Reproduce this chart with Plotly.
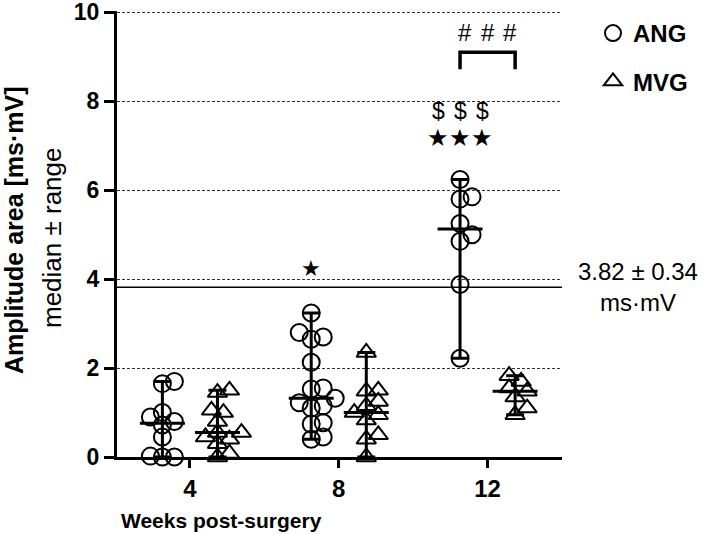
import numpy as np
import plotly.graph_objects as go

# ---------------- data ----------------
weeks = ["4", "8", "12"]
groups = ["ANG", "MVG"]

ang_w4 = [0.0, 0.0, 0.02, 0.45, 0.72, 0.8, 0.9, 1.0, 1.65, 1.7]
ang_w8 = [0.4, 0.45, 0.74, 0.77, 1.1, 1.15, 1.22, 1.32, 1.55, 1.53, 2.13, 2.65, 2.7, 2.8, 3.24]
ang_w12 = [2.22, 3.88, 4.85, 5.0, 5.25, 5.8, 5.85, 6.24]

mvg_w4 = [0.0, 0.08, 0.3, 0.4, 0.45, 0.55, 0.55, 0.8, 1.0, 1.05, 1.45, 1.5]
mvg_w8 = [0.0, 0.4, 0.5, 0.83, 0.95, 1.0, 1.15, 1.25, 1.48, 1.5, 2.35]
mvg_w12 = [0.95, 1.1, 1.35, 1.48, 1.55, 1.7, 1.83]

ang_values = [ang_w4, ang_w8, ang_w12]
mvg_values = [mvg_w4, mvg_w8, mvg_w12]

reference_mean = 3.82
reference_sd = 0.34

y_ticks = [0, 2, 4, 6, 8, 10]

# significance marks (y levels in data units)
single_star_level = 4.23
triple_star_level = 7.18
dollar_level = 7.77
hash_level = 9.55
bracket_top = 9.1
bracket_bottom = 8.72

# ---------------- geometry ----------------
W, H = 709, 534
ML, MR, MT, MB = 117, 147, 11, 77
XR = [-0.49, 2.5]
YR = [0, 10.03]
px_x = (W - ML - MR) / (XR[1] - XR[0])
px_y = (H - MT - MB) / (YR[1] - YR[0])
OFF = 0.185
FONT = "Liberation Sans, Arial, sans-serif"


def swarm(values, diam=17.0, step=6.0, overlap=0.6):
    placed = []
    order = sorted(range(len(values)), key=lambda i: values[i])
    res = [0.0] * len(values)
    for i in order:
        y = values[i] * px_y
        k = 0
        while True:
            n = (k + 1) // 2
            c = n * step * (1 if k % 2 == 1 else -1) if k > 0 else 0.0
            ok = all((c - px) ** 2 + (y - py) ** 2 >= (overlap * diam) ** 2 for px, py in placed)
            if ok or k > 6:
                break
            k += 1
        placed.append((c, y))
        res[i] = c
    return res


fig = go.Figure()

for name, vals, sym, side in [("ANG", ang_values, "circle-open", -1), ("MVG", mvg_values, "triangle-up-open", 1)]:
    xs, ys = [], []
    for gi, v in enumerate(vals):
        offs = swarm(v)
        for val, o in zip(v, offs):
            xs.append(gi + side * OFF + o / px_x)
            ys.append(val)
    fig.add_trace(go.Scatter(
        x=xs, y=ys, mode="markers", name=name, legendgroup=name,
        marker=dict(symbol=sym, size=17, color="black", line=dict(width=2, color="black")),
        cliponaxis=False, showlegend=True,
    ))
    med = [float(np.median(v)) for v in vals]
    mx = [float(np.max(v)) for v in vals]
    mn = [float(np.min(v)) for v in vals]
    fig.add_trace(go.Scatter(
        x=[gi + side * OFF for gi in range(len(vals))], y=med, mode="markers",
        marker=dict(size=1, color="rgba(0,0,0,0)"),
        error_y=dict(type="data", symmetric=False,
                     array=[a - m for a, m in zip(mx, med)],
                     arrayminus=[m - b for m, b in zip(med, mn)],
                     color="black", thickness=3, width=9),
        error_x=dict(type="constant", value=22.5 / px_x, color="black", thickness=3, width=0),
        cliponaxis=False, showlegend=False, hoverinfo="skip",
    ))

# significance bracket
bx = [2 - OFF, 2 - OFF, 2 + OFF, 2 + OFF]
fig.add_trace(go.Scatter(x=bx, y=[bracket_bottom, bracket_top, bracket_top, bracket_bottom],
                         mode="lines", line=dict(color="black", width=3.5),
                         showlegend=False, hoverinfo="skip", cliponaxis=False))

# reference line
fig.add_shape(type="line", xref="paper", x0=0, x1=1, yref="y", y0=reference_mean, y1=reference_mean,
              line=dict(color="black", width=1.5))

ann = []
ann.append(dict(x=1 - OFF, y=single_star_level, text="★", showarrow=False, font=dict(size=22)))
for k in (-1, 0, 1):
    ann.append(dict(x=2 - OFF, y=triple_star_level, text="★", showarrow=False, xshift=22 * k, font=dict(size=24)))
    ann.append(dict(x=2 - OFF, y=dollar_level, text="$", showarrow=False, xshift=22 * k, font=dict(size=23)))
    ann.append(dict(x=2, y=hash_level, text="#", showarrow=False, xshift=22.5 * k, font=dict(size=24)))

xr_txt = 1 + (638 - (W - MR)) / (W - ML - MR)
ann.append(dict(xref="paper", yref="y", x=xr_txt, y=reference_mean, xanchor="center",
                text=f"{reference_mean:.2f} ± {reference_sd:.2f}", showarrow=False, yshift=16,
                font=dict(size=24)))
ann.append(dict(xref="paper", yref="y", x=xr_txt, y=reference_mean, xanchor="center",
                text="ms·mV", showarrow=False, yshift=-15, font=dict(size=24)))

# axis titles
ann.append(dict(xref="paper", yref="paper", x=(14 - ML) / (W - ML - MR), y=(H - MB - 230) / (H - MT - MB),
                text="<b>Amplitude area [ms·mV]</b>", textangle=-90, showarrow=False,
                xanchor="center", yanchor="middle", font=dict(size=25)))
ann.append(dict(xref="paper", yref="paper", x=(52 - ML) / (W - ML - MR), y=(H - MB - 238) / (H - MT - MB),
                text="median ± range", textangle=-90, showarrow=False,
                xanchor="center", yanchor="middle", font=dict(size=26)))
ann.append(dict(xref="paper", yref="paper", x=(221 - ML) / (W - ML - MR), y=(H - MB - 520) / (H - MT - MB),
                text="<b>Weeks post-surgery</b>", showarrow=False,
                xanchor="center", yanchor="middle", font=dict(size=21)))

fig.update_layout(
    width=W, height=H, margin=dict(l=ML, r=MR, t=MT, b=MB, autoexpand=False),
    plot_bgcolor="white", paper_bgcolor="white",
    font=dict(family=FONT, size=20, color="black"),
    annotations=ann,
    legend=dict(x=(593 - ML) / (W - ML - MR), y=1.0, xanchor="left", yanchor="top",
                font=dict(size=24, weight="bold"), tracegroupgap=14,
                bgcolor="rgba(0,0,0,0)", traceorder="grouped", itemwidth=30),
    xaxis=dict(range=XR, tickvals=[0, 1, 2], ticktext=weeks, ticks="outside", ticklen=8, tickwidth=3,
               tickcolor="black", showline=True, linewidth=3, linecolor="black", showgrid=False,
               zeroline=False, automargin=False, tickfont=dict(size=24, weight="bold")),
    yaxis=dict(range=YR, tickvals=y_ticks, ticks="outside", ticklen=10, tickwidth=3, tickcolor="black",
               showline=True, linewidth=3, linecolor="black", showgrid=True, gridcolor="#333333",
               gridwidth=1, griddash="3px,2px", zeroline=False, ticklabeloverflow="allow",
               automargin=False, tickfont=dict(size=23, weight="bold")),
)

fig.write_html("out.html", post_script="document.body.style.margin='0px';",
               config={"displayModeBar": False})
